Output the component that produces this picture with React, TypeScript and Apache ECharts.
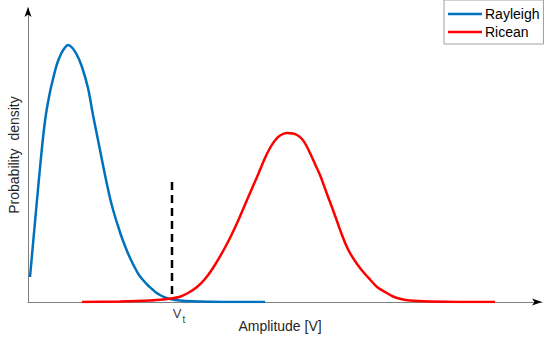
import React, { useEffect, useRef } from "react";
import * as echarts from "echarts";

// Amplitude axis (arbitrary units) and probability density (arbitrary units)
const X_MIN = 0;
const X_MAX = 5.14;
const Y_MIN = 0;
const Y_MAX = 2.94;

const seriesNames = ["Rayleigh", "Ricean"];

const rayleighAmp = [
  0.02, 0.05, 0.09, 0.12, 0.15, 0.18, 0.22, 0.25, 0.29, 0.33, 0.37, 0.4,
  0.44, 0.49, 0.54, 0.6, 0.65, 0.69, 0.72, 0.77, 0.82, 0.86,
  0.9, 0.94, 0.99, 1.03, 1.07, 1.11, 1.15, 1.2, 1.24, 1.28,
  1.32, 1.37, 1.42, 1.47, 1.57, 1.72, 2.02, 2.37,
];
const rayleighDensity = [
  0.25, 0.58, 1.02, 1.34, 1.64, 1.88, 2.1, 2.23, 2.38, 2.48, 2.545, 2.57,
  2.545, 2.47, 2.35, 2.14, 1.87, 1.67, 1.52, 1.27, 1.04, 0.89,
  0.76, 0.64, 0.51, 0.42, 0.34, 0.27, 0.22, 0.165, 0.13, 0.095,
  0.07, 0.045, 0.03, 0.02, 0.01, 0.004, 0, 0,
];

const riceanAmp = [
  0.54, 0.92, 1.22, 1.37, 1.45, 1.52, 1.6, 1.69, 1.77, 1.85,
  1.94, 2.02, 2.1, 2.19, 2.29, 2.37, 2.42, 2.47, 2.52, 2.59,
  2.65, 2.69, 2.74, 2.78, 2.82, 2.87, 2.92, 2.99, 3.05, 3.1,
  3.14, 3.18, 3.22, 3.27, 3.32, 3.37, 3.42, 3.49, 3.57, 3.65,
  3.72, 3.82, 4.02, 4.32, 4.67,
];
const riceanDensity = [
  0, 0.004, 0.014, 0.027, 0.038, 0.053, 0.09, 0.15, 0.23, 0.34,
  0.49, 0.64, 0.81, 1.02, 1.25, 1.44, 1.54, 1.615, 1.665, 1.69,
  1.685, 1.67, 1.63, 1.57, 1.49, 1.38, 1.27, 1.08, 0.92, 0.78,
  0.67, 0.57, 0.49, 0.41, 0.34, 0.28, 0.225, 0.15, 0.1, 0.055,
  0.032, 0.014, 0.004, 0, 0,
];

// Threshold V_t
const thresholdAmp = 1.44;
const thresholdTop = 1.2;
const thresholdBottom = 0.02;
const thresholdLabel = ["V", "t"];

const FONT = "'Liberation Sans', Arial, Helvetica, sans-serif";
const TEXT = "#262626";
const AXIS = "#808080";
const BLUE = "#0072BD";
const RED = "#FF0000";

export default function App() {
  const ref = useRef<HTMLDivElement>(null);

  useEffect(() => {
    if (!ref.current) return;
    const chart = echarts.init(ref.current, null, { renderer: "svg" });
    const zip = (xs: number[], ys: number[]) => xs.map((x, i) => [x, ys[i]]);

    const option: any = {
      animation: false,
      grid: { left: 28, right: 8, top: 8, bottom: 41, containLabel: false, outerBoundsMode: "none" },
      legend: {
        data: seriesNames,
        orient: "vertical",
        left: 444,
        top: 0,
        padding: [5, 4, 3, 4],
        itemWidth: 34,
        itemHeight: 2.5,
        itemGap: 0,
        icon: "rect",
        borderColor: "#a0a0a0",
        borderWidth: 1,
        backgroundColor: "#ffffff",
        textStyle: { fontSize: 14, color: "#000", fontFamily: FONT, lineHeight: 18, padding: [0, 0, 0, -2] },
      },
      xAxis: {
        type: "value",
        min: X_MIN,
        max: X_MAX,
        name: "Amplitude [V]",
        nameLocation: "middle",
        nameGap: 17,
        nameTextStyle: { fontSize: 14, color: TEXT, fontFamily: FONT, padding: [0, 10, 0, 0] },
        axisLine: { show: true, lineStyle: { color: AXIS, width: 1 } },
        axisTick: { show: false },
        axisLabel: { show: false },
        splitLine: { show: false },
      },
      yAxis: {
        type: "value",
        min: Y_MIN,
        max: Y_MAX,
        name: "Probability  density",
        nameLocation: "middle",
        nameGap: 7,
        nameTextStyle: { fontSize: 14, color: TEXT, fontFamily: FONT },
        axisLine: { show: true, lineStyle: { color: AXIS, width: 1 } },
        axisTick: { show: false },
        axisLabel: { show: false },
        splitLine: { show: false },
      },
      series: [
        {
          name: seriesNames[0],
          type: "line",
          data: zip(rayleighAmp, rayleighDensity),
          symbol: "none",
          smooth: 0.3,
          lineStyle: { color: BLUE, width: 2.5 },
          itemStyle: { color: BLUE },
          z: 3,
        },
        {
          name: seriesNames[1],
          type: "line",
          data: zip(riceanAmp, riceanDensity),
          symbol: "none",
          smooth: 0.3,
          lineStyle: { color: RED, width: 2.5 },
          itemStyle: { color: RED },
          z: 4,
        },
        {
          name: "threshold",
          type: "line",
          data: [
            [thresholdAmp, thresholdTop],
            [thresholdAmp, thresholdBottom],
          ],
          symbol: "none",
          lineStyle: { color: "#000", width: 2.5, type: [8, 5] },
          z: 2,
        },
        {
          name: "thresholdLabel",
          type: "scatter",
          data: [[thresholdAmp, 0]],
          symbolSize: 1,
          itemStyle: { color: "rgba(0,0,0,0)" },
          label: {
            show: true,
            position: "bottom",
            distance: 4,
            offset: [7, 0],
            color: "#000",
            fontFamily: FONT,
            formatter: `{v|${thresholdLabel[0]}}{s|${thresholdLabel[1]}}`,
            rich: {
              v: { fontSize: 13, color: "#000", fontFamily: FONT, padding: [0, 0, 4, 0] },
              s: { fontSize: 10, color: "#000", fontFamily: FONT, padding: [8, 0, 0, 1] },
            },
          },
          z: 5,
        },
      ],
    };
    chart.setOption(option);

    const o = chart.convertToPixel({ gridIndex: 0 }, [X_MIN, Y_MIN]) as number[];
    const xe = chart.convertToPixel({ gridIndex: 0 }, [X_MAX, Y_MIN]) as number[];
    const ye = chart.convertToPixel({ gridIndex: 0 }, [X_MIN, Y_MAX]) as number[];
    const ax = o[0];
    const ay = o[1];
    const yTip = ye[1] - 1;
    const xTip = xe[0];
    chart.setOption({
      graphic: [
        {
          type: "polygon",
          z: 100,
          shape: {
            points: [
              [ax, yTip],
              [ax - 3.5, yTip + 10],
              [ax, yTip + 7.5],
              [ax + 3.5, yTip + 10],
            ],
          },
          style: { fill: "#000" },
        },
        {
          type: "polygon",
          z: 100,
          shape: {
            points: [
              [xTip, ay],
              [xTip - 10, ay - 3.5],
              [xTip - 7.5, ay],
              [xTip - 10, ay + 3.5],
            ],
          },
          style: { fill: "#000" },
        },
      ],
    });

    return () => chart.dispose();
  }, []);

  return (
    <div
      ref={ref}
      style={{ position: "absolute", left: 0, top: 0, width: 550, height: 343, background: "#fff" }}
    />
  );
}
